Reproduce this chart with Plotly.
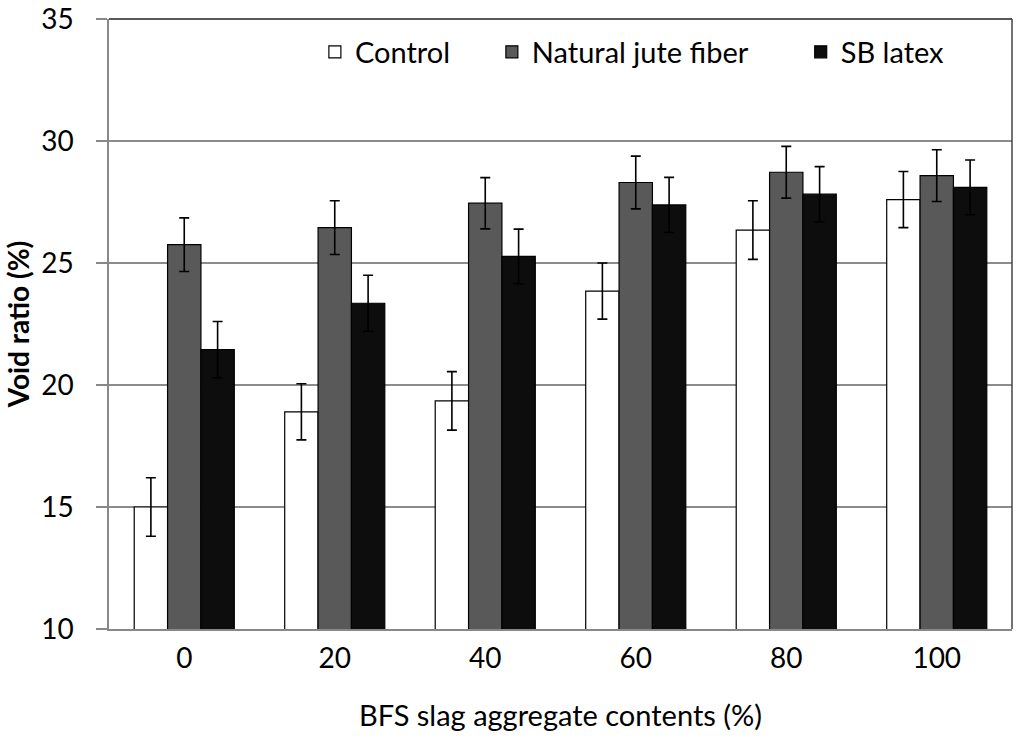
import plotly.graph_objects as go

categories = ["0", "20", "40", "60", "80", "100"]
control = [15.0, 18.9, 19.35, 23.85, 26.35, 27.6]
control_err = [1.2, 1.15, 1.2, 1.15, 1.2, 1.15]
jute = [25.75, 26.45, 27.45, 28.3, 28.72, 28.58]
jute_err = [1.1, 1.1, 1.05, 1.08, 1.06, 1.06]
sb = [21.45, 23.35, 25.27, 27.38, 27.82, 28.1]
sb_err = [1.15, 1.15, 1.12, 1.13, 1.13, 1.12]

FONT = "Lato"
fig = go.Figure()
series = [
    ("Control", control, control_err, "#ffffff", "legend"),
    ("Natural jute fiber", jute, jute_err, "#595959", "legend2"),
    ("SB latex", sb, sb_err, "#0d0d0d", "legend3"),
]
for name, vals, errs, color, lg in series:
    fig.add_trace(go.Bar(
        x=categories, y=vals, name=name, legend=lg, showlegend=True,
        marker=dict(color=color, line=dict(color="#000000", width=1.2)),
        error_y=dict(type="data", array=errs, visible=True, color="#000000",
                     thickness=1.6, width=5),
    ))

leg_common = dict(orientation="h", yanchor="middle", xanchor="left",
                  bgcolor="rgba(0,0,0,0)", font=dict(family=FONT, size=29, color="#000000"),
                  itemwidth=30)
fig.update_layout(
    width=1024, height=738,
    margin=dict(l=109, r=12, t=19, b=109),
    paper_bgcolor="white", plot_bgcolor="white",
    showlegend=True,
    barmode="group", bargap=0.335, bargroupgap=0,
    font=dict(family=FONT, color="#000000"),
    legend=dict(x=0.228, y=0.946, **leg_common),
    legend2=dict(x=0.424, y=0.946, **leg_common),
    legend3=dict(x=0.766, y=0.946, **leg_common),
    xaxis=dict(
        title=dict(text="BFS slag aggregate contents (%)", font=dict(family=FONT, size=29), standoff=32),
        tickfont=dict(family=FONT, size=28), ticklabelstandoff=4,
        showline=True, linecolor="#888888", linewidth=1.5,
        ticks="", showgrid=False, automargin=False,
    ),
    yaxis=dict(
        title=dict(text="<b>Void ratio (%)</b>", font=dict(family=FONT, size=28), standoff=3),
        tickfont=dict(family=FONT, size=28), ticklabelstandoff=17,
        ticklabeloverflow="allow",
        range=[10, 35], dtick=5, tick0=10,
        showline=True, linecolor="#888888", linewidth=1.5,
        ticks="outside", ticklen=11, tickcolor="#888888", tickwidth=1.5,
        showgrid=True, gridcolor="#8c8c8c", gridwidth=1.5,
        zeroline=False, automargin=False,
    ),
)
# plot-area frame (top and right edges)
fig.add_shape(type="line", xref="paper", yref="paper", x0=0, x1=1, y0=1, y1=1,
              line=dict(color="#222222", width=1.5))
fig.add_shape(type="line", xref="paper", yref="paper", x0=1, x1=1, y0=0, y1=1,
              line=dict(color="#444444", width=1.5))

fig.write_html("out.html", config={"displayModeBar": False},
               post_script="document.body.style.margin='0';")
